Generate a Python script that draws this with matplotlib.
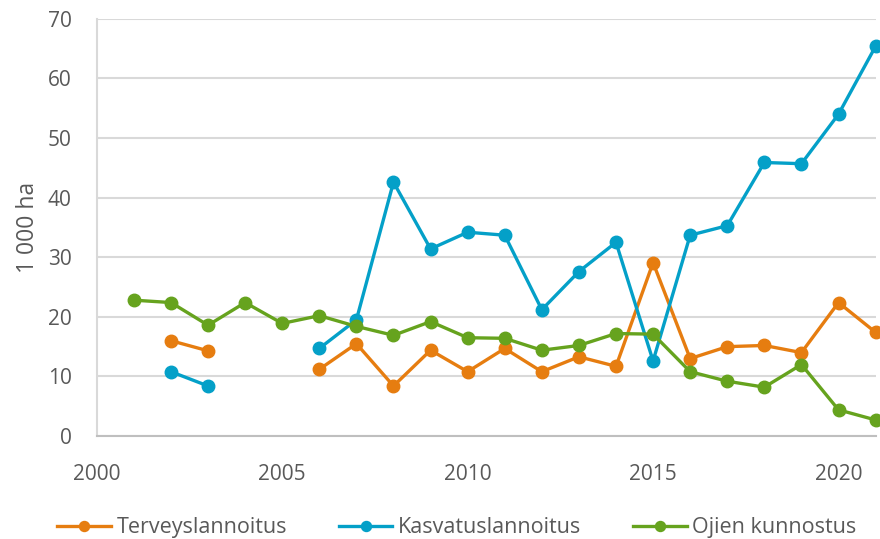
import numpy as np
import matplotlib.pyplot as plt

# Data (1 000 ha); nan = no value that year
years = list(range(2001, 2022))
nan = np.nan

terveyslannoitus = [nan, 16.0, 14.3, nan, nan, 11.2, 15.5, 8.4, 14.4, 10.8,
                    14.7, 10.8, 13.3, 11.7, 29.1, 13.0, 15.0, 15.2, 14.0, 22.4, 17.4]
kasvatuslannoitus = [nan, 10.8, 8.4, nan, nan, 14.7, 19.5, 42.6, 31.4, 34.2,
                     33.7, 21.2, 27.6, 32.5, 12.6, 33.7, 35.3, 45.9, 45.7, 54.0, 65.4]
ojien_kunnostus = [22.8, 22.4, 18.6, 22.4, 18.9, 20.2, 18.4, 16.9, 19.2, 16.5,
                   16.4, 14.4, 15.2, 17.2, 17.1, 10.8, 9.2, 8.2, 12.0, 4.4, 2.7]

series = [
    ("Terveyslannoitus", terveyslannoitus, "#E67D10"),
    ("Kasvatuslannoitus", kasvatuslannoitus, "#04A0C8"),
    ("Ojien kunnostus", ojien_kunnostus, "#66A31E"),
]

x_ticks = [2000, 2005, 2010, 2015, 2020]
y_ticks = [0, 10, 20, 30, 40, 50, 60, 70]

plt.rcParams['font.family'] = ['Open Sans', 'DejaVu Sans']
text_grey = "#595959"

fig = plt.figure(figsize=(8.8, 5.39), dpi=100)
ax = fig.add_axes([0.110, 0.191, 0.885, 0.774])

for label, values, colour in series:
    ax.plot(years, values, color=colour, linewidth=2.4, marker='o',
            markersize=9, label=label, clip_on=False, zorder=3)

ax.set_xlim(2000, 2021)
ax.set_ylim(0, 70)
ax.set_xticks(x_ticks)
ax.set_yticks(y_ticks)
ax.tick_params(axis='both', length=0, labelsize=15, colors=text_grey)
ax.tick_params(axis='x', pad=20)
ax.tick_params(axis='y', pad=18)

ax.grid(axis='y', color="#D9D9D9", linewidth=1.5, zorder=0)
ax.set_axisbelow(True)
for side in ['top', 'right']:
    ax.spines[side].set_visible(False)
ax.spines['left'].set_color("#D9D9D9")
ax.spines['left'].set_linewidth(1.5)
ax.spines['bottom'].set_color("#BFBFBF")
ax.spines['bottom'].set_linewidth(1.5)

ax.set_ylabel("1 000 ha", fontsize=16.5, color=text_grey, labelpad=6)

fig.legend(loc='lower center', bbox_to_anchor=(0.519, -0.035), ncol=3,
           frameon=False, fontsize=15.5, labelcolor=text_grey, markerscale=0.8,
           handlelength=2.5, handletextpad=0.25, columnspacing=2.4)

fig.savefig("out.png", dpi=100)
